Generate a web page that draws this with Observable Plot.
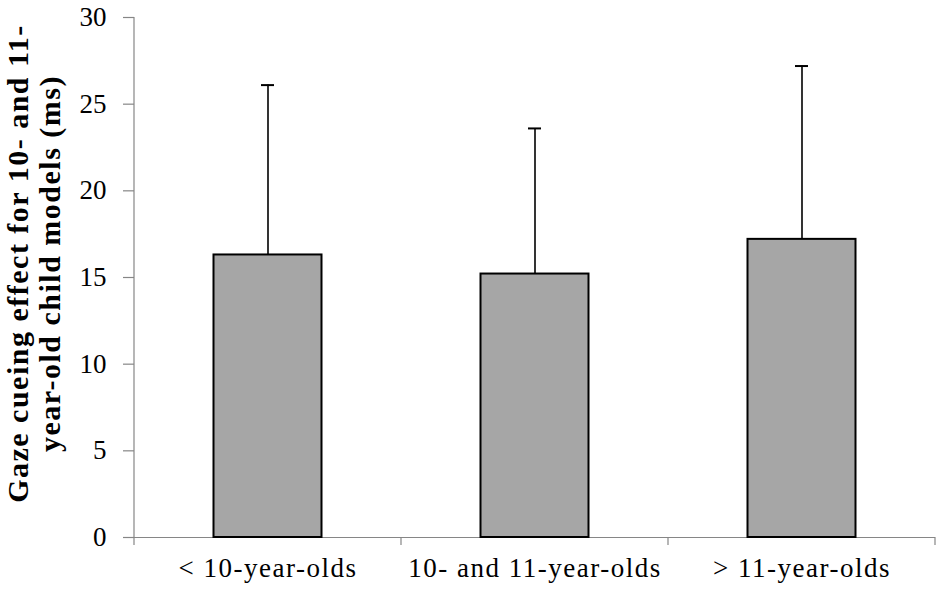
<!DOCTYPE html>
<html><head><meta charset="utf-8">
<script src="https://cdn.jsdelivr.net/npm/d3@7"></script>
<script src="https://cdn.jsdelivr.net/npm/@observablehq/plot@0.6"></script>
<style>
body{margin:0;background:#fff}
svg{display:block}
g[aria-label="x-axis tick label"] text{letter-spacing:1.5px}
g[aria-label="text"] text{letter-spacing:1.5px}
</style>
</head><body><div id="chart"></div>
<script>
const categories = ["< 10-year-olds", "10- and 11-year-olds", "> 11-year-olds"];
const means = [16.3, 15.2, 17.2];
const sds = [9.8, 8.4, 10.0];
const yTicks = [0, 5, 10, 15, 20, 25, 30];
const yLabelLines = ["Gaze cueing effect for 10- and 11-", "year-old child models (ms)"];

const data = categories.map((c, i) => ({cat: c, mean: means[i], upper: means[i] + sds[i]}));
const axisGray = "#868686";
const font = "'Liberation Serif', 'Times New Roman', serif";

function axisLines(index, scales, values, dimensions) {
  const x = scales.x, y = scales.y;
  const bw = typeof x.bandwidth === "function" ? x.bandwidth() : x.bandwidth;
  const g = d3.create("svg:g").attr("stroke", axisGray).attr("stroke-width", 1.2);
  const edges = categories.map(c => x(c));
  edges.push(x(categories[categories.length - 1]) + bw);
  const y0 = y(0);
  g.selectAll("line.b").data(edges).join("line")
    .attr("x1", d => d).attr("x2", d => d)
    .attr("y1", y0).attr("y2", y0 + 8);
  g.append("line")
    .attr("x1", edges[0]).attr("x2", edges[0])
    .attr("y1", y(yTicks[yTicks.length - 1])).attr("y2", y0);
  return g.node();
}

const chart = Plot.plot({
  width: 946,
  height: 593,
  marginTop: 17,
  marginRight: 11,
  marginBottom: 56,
  marginLeft: 134,
  style: {fontFamily: font, color: "black", background: "white"},
  x: {domain: categories, paddingInner: 0, paddingOuter: 0, label: null},
  y: {domain: [0, 30], label: null},
  marks: [
    Plot.ruleY([0], {stroke: axisGray, strokeWidth: 1.2}),
    Plot.axisY({ticks: yTicks, tickSize: 11, tickPadding: 17, fontSize: 27, stroke: axisGray, strokeWidth: 1.2, fill: "black", label: null}),
    Plot.axisX({tickSize: 0, tickPadding: 20, fontSize: 27, fill: "black", label: null}),
    axisLines,
    Plot.ruleX(data, {x: "cat", y1: "mean", y2: "upper", stroke: "black", strokeWidth: 1.6}),
    Plot.tickY(data, {x: "cat", y: "upper", stroke: "black", strokeWidth: 2, insetLeft: 127, insetRight: 127}),
    Plot.barY(data, {x: "cat", y: "mean", fill: "#a6a6a6", stroke: "black", strokeWidth: 2, insetLeft: 79.5, insetRight: 79.5}),
    Plot.text([yLabelLines[0]], {text: d => d, frameAnchor: "left", textAnchor: "middle", rotate: -90, dx: -116, dy: -14, fontSize: 30, fontWeight: "bold", fill: "black"}),
    Plot.text([yLabelLines[1]], {text: d => d, frameAnchor: "left", textAnchor: "middle", rotate: -90, dx: -84, dy: -14, fontSize: 30, fontWeight: "bold", fill: "black"})
  ]
});
document.getElementById("chart").appendChild(chart);
</script>
</body></html>
